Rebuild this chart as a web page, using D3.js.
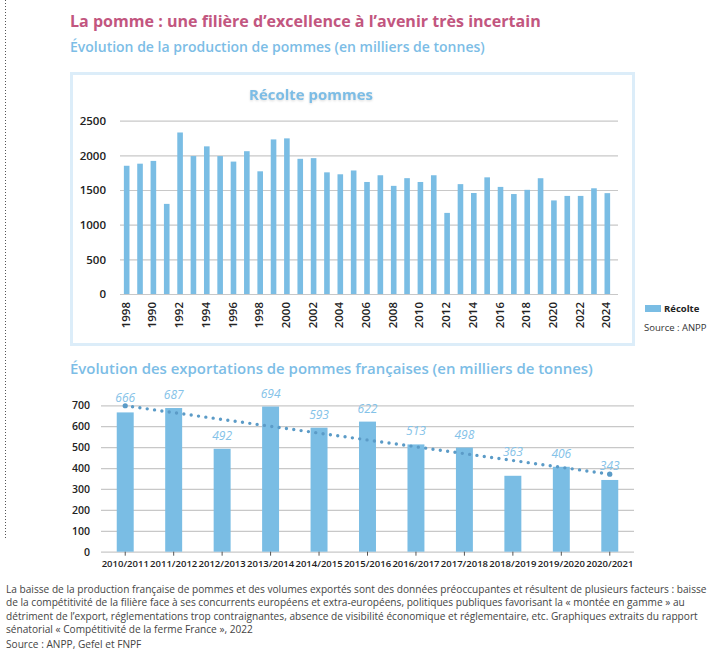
<!DOCTYPE html>
<html>
<head>
<meta charset="utf-8">
<script src="https://cdn.jsdelivr.net/npm/d3@7"></script>
<style>
  body { margin: 0; background: #fff; }
</style>
</head>
<body>
<svg id="chart" width="728" height="656"></svg>
<script>
// ---- data ----
const harvestYears = [1988, 1989, 1990, 1991, 1992, 1993, 1994, 1995, 1996, 1997,
  1998, 1999, 2000, 2001, 2002, 2003, 2004, 2005, 2006, 2007, 2008, 2009, 2010,
  2011, 2012, 2013, 2014, 2015, 2016, 2017, 2018, 2019, 2020, 2021, 2022, 2023, 2024];
const harvestValues = [1850, 1880, 1920, 1300, 2330, 1990, 2130, 1990, 1910, 2060,
  1770, 2230, 2245, 1950, 1960, 1755, 1727, 1782, 1616, 1713, 1560, 1671, 1616,
  1713, 1170, 1585, 1457, 1683, 1545, 1442, 1503, 1670, 1350, 1415, 1415, 1525, 1455];
// labels as printed on the chart (the first one really reads "1998")
const harvestTickYears = [1988, 1990, 1992, 1994, 1996, 1998, 2000, 2002, 2004, 2006,
  2008, 2010, 2012, 2014, 2016, 2018, 2020, 2022, 2024];
const harvestTickLabels = ["1998", "1990", "1992", "1994", "1996", "1998", "2000", "2002",
  "2004", "2006", "2008", "2010", "2012", "2014", "2016", "2018", "2020", "2022", "2024"];
const harvestYTicks = [0, 500, 1000, 1500, 2000, 2500];

const exportSeasons = ["2010/2011", "2011/2012", "2012/2013", "2013/2014", "2014/2015",
  "2015/2016", "2016/2017", "2017/2018", "2018/2019", "2019/2020", "2020/2021"];
const exportValues = [666, 687, 492, 694, 593, 622, 513, 498, 363, 406, 343];
const exportYTicks = [0, 100, 200, 300, 400, 500, 600, 700];

const footerLines = [
  "La baisse de la production française de pommes et des volumes exportés sont des données préoccupantes et résultent de plusieurs facteurs : baisse",
  "de la compétitivité de la filière face à ses concurrents européens et extra-européens, politiques publiques favorisant la « montée en gamme » au",
  "détriment de l’export, réglementations trop contraignantes, absence de visibilité économique et réglementaire, etc. Graphiques extraits du rapport",
  "sénatorial « Compétitivité de la ferme France », 2022"
];

// ---- style ----
const FONT = "'Open Sans', sans-serif";
const BAR = "#7abde4";
const BLUE_TXT = "#7cbde6";
const PINK = "#c2567f";
const GRID = "#c8c8c8";
const INK = "#222";

const svg = d3.select("#chart");

function fitText(sel, w) {
  const cur = sel.node().getComputedTextLength();
  sel.attr("font-size", +sel.attr("font-size") * w / cur);
}

// left dotted rule
svg.append("line")
  .attr("x1", 5.5).attr("x2", 5.5).attr("y1", 0).attr("y2", 540)
  .attr("stroke", "#555").attr("stroke-width", 1)
  .attr("stroke-dasharray", "1 2");

// titles
svg.append("text")
  .attr("x", 70).attr("y", 27)
  .attr("font-family", FONT).attr("font-weight", 700).attr("font-size", 18)
  .attr("fill", PINK)
  .text("La pomme : une filière d’excellence à l’avenir très incertain")
  .call(fitText, 471);

svg.append("text")
  .attr("x", 70).attr("y", 52)
  .attr("font-family", FONT).attr("font-weight", 600).attr("font-size", 15)
  .attr("fill", BLUE_TXT)
  .text("Évolution de la production de pommes (en milliers de tonnes)")
  .call(fitText, 415);

// ---- top chart ----
svg.append("rect")
  .attr("x", 71.5).attr("y", 73.5).attr("width", 562).attr("height", 271)
  .attr("fill", "#fff").attr("stroke", "#dcedf9").attr("stroke-width", 3);

svg.append("text")
  .attr("x", 311).attr("y", 100)
  .attr("text-anchor", "middle")
  .attr("font-family", FONT).attr("font-weight", 700).attr("font-size", 15)
  .attr("fill", BLUE_TXT)
  .style("filter", "drop-shadow(0px 1px 1px rgba(0,0,0,0.15))")
  .text("Récolte pommes")
  .call(fitText, 124);

const x1 = d3.scaleBand().domain(harvestYears).range([120, 614])
  .paddingInner(0.58).paddingOuter(0.29);
const y1 = d3.scaleLinear().domain([0, 2500]).range([294, 120.7]);

const g1 = svg.append("g");

g1.append("g")
  .attr("transform", "translate(120,0)")
  .call(d3.axisLeft(y1).tickValues(harvestYTicks).tickSize(-498).tickPadding(14)
    .tickFormat(d3.format("d")))
  .call(g => g.select(".domain").remove())
  .call(g => g.selectAll("line").attr("stroke", GRID).attr("stroke-width", 1.2))
  .call(g => g.selectAll("text")
    .attr("font-family", FONT).attr("font-size", 11.5).attr("font-weight", 600)
    .attr("fill", INK));

g1.selectAll(".bar")
  .data(harvestValues)
  .join("rect")
  .attr("class", "bar")
  .attr("x", (d, i) => x1(harvestYears[i]))
  .attr("y", d => y1(d))
  .attr("width", x1.bandwidth())
  .attr("height", d => y1(0) - y1(d))
  .attr("fill", BAR);

g1.append("g")
  .attr("transform", "translate(0,294)")
  .call(d3.axisBottom(x1).tickValues(harvestTickYears).tickSize(0)
    .tickFormat((d, i) => harvestTickLabels[i]))
  .call(g => g.select(".domain").remove())
  .call(g => g.selectAll("text")
    .attr("font-family", FONT).attr("font-size", 11.5).attr("font-weight", 600)
    .attr("fill", INK)
    .attr("transform", "rotate(-90)")
    .attr("text-anchor", "end")
    .attr("x", -8).attr("y", -1).attr("dy", "0.35em"));

// legend
svg.append("rect")
  .attr("x", 645).attr("y", 305).attr("width", 16).attr("height", 7)
  .attr("fill", BAR);
svg.append("text")
  .attr("x", 664).attr("y", 312)
  .attr("font-family", FONT).attr("font-weight", 700).attr("font-size", 9.5)
  .attr("fill", INK).text("Récolte");
svg.append("text")
  .attr("x", 644).attr("y", 331)
  .attr("font-family", FONT).attr("font-size", 9.5)
  .attr("fill", "#333").text("Source : ANPP");

// ---- bottom chart ----
svg.append("text")
  .attr("x", 70).attr("y", 374)
  .attr("font-family", FONT).attr("font-weight", 600).attr("font-size", 15)
  .attr("fill", BLUE_TXT)
  .text("Évolution des exportations de pommes françaises (en milliers de tonnes)")
  .call(fitText, 523);

const x2 = d3.scaleBand().domain(exportSeasons).range([101, 634])
  .paddingInner(0.65).paddingOuter(0.325);
const y2 = d3.scaleLinear().domain([0, 700]).range([551.7, 405.3]);

const g2 = svg.append("g");

g2.append("g")
  .attr("transform", "translate(101,0)")
  .call(d3.axisLeft(y2).tickValues(exportYTicks).tickSize(-533).tickPadding(11))
  .call(g => g.select(".domain").remove())
  .call(g => g.selectAll("line").attr("stroke", GRID).attr("stroke-width", 1.2))
  .call(g => g.selectAll("text")
    .attr("font-family", FONT).attr("font-size", 10.5).attr("font-weight", 600)
    .attr("fill", INK));

g2.selectAll(".bar")
  .data(exportValues)
  .join("rect")
  .attr("class", "bar")
  .attr("x", (d, i) => x2(exportSeasons[i]))
  .attr("y", d => y2(d))
  .attr("width", x2.bandwidth())
  .attr("height", d => y2(0) - y2(d))
  .attr("fill", BAR);

g2.append("g")
  .attr("transform", "translate(0,551.7)")
  .call(d3.axisBottom(x2).tickSize(4).tickPadding(5))
  .call(g => g.select(".domain").remove())
  .call(g => g.selectAll("line").attr("stroke", "#555"))
  .call(g => g.selectAll("text")
    .attr("font-family", FONT).attr("font-size", 9.5).attr("font-weight", 600)
    .attr("fill", INK));

// linear trend of the exports
const n = exportValues.length;
const mx = d3.mean(exportValues, (d, i) => i);
const my = d3.mean(exportValues);
const slope = d3.sum(exportValues, (d, i) => (i - mx) * (d - my)) /
  d3.sum(exportValues, (d, i) => (i - mx) * (i - mx));
const icpt = my - slope * mx;
const cx2 = i => x2(exportSeasons[i]) + x2.bandwidth() / 2;
const trendY = i => y2(icpt + slope * i);
const trend = [0, n - 1].map(i => [cx2(i), trendY(i)]);

g2.append("path")
  .attr("d", d3.line()(trend))
  .attr("fill", "none")
  .attr("stroke", "#5b9bc7")
  .attr("stroke-width", 3.4)
  .attr("stroke-linecap", "round")
  .attr("stroke-dasharray", "0 7.4");

g2.selectAll(".trend-end")
  .data(trend)
  .join("circle")
  .attr("class", "trend-end")
  .attr("cx", d => d[0]).attr("cy", d => d[1]).attr("r", 2.6)
  .attr("fill", "#5b9bc7");

// value labels sit above the bar, pushed above the trend line when it runs close to the bar top
function labelY(d, i) {
  const top = y2(d) - 9;
  const t = trendY(i);
  return t > y2(d) - 20 ? Math.min(top, t - 4) : top;
}

g2.selectAll(".val")
  .data(exportValues)
  .join("text")
  .attr("class", "val")
  .attr("x", (d, i) => cx2(i))
  .attr("y", labelY)
  .attr("text-anchor", "middle")
  .attr("font-family", FONT).attr("font-style", "italic").attr("font-size", 12)
  .attr("fill", "#84c2e8")
  .text(d => d);

// ---- footer ----
const foot = svg.append("g")
  .attr("font-family", FONT).attr("fill", "#444");

const lines = foot.selectAll("text")
  .data(footerLines)
  .join("text")
  .attr("x", 6)
  .attr("y", (d, i) => 593 + i * 13.3)
  .attr("font-size", 10)
  .text(d => d);

const fs = 10 * 701 / lines.node().getComputedTextLength();
lines.attr("font-size", fs);

foot.append("text")
  .attr("x", 6).attr("y", 648)
  .attr("font-size", fs)
  .text("Source : ANPP, Gefel et FNPF");
</script>
</body>
</html>
